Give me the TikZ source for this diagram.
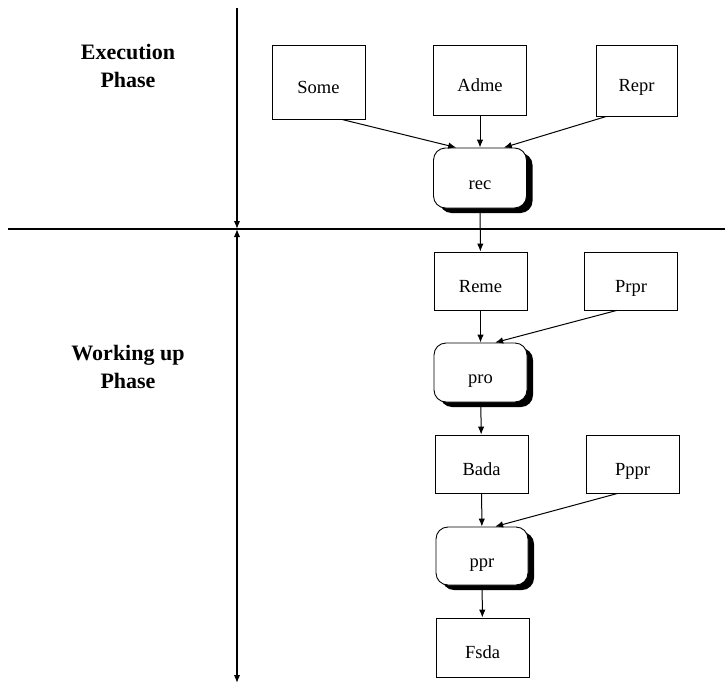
\documentclass[tikz,border=0pt]{standalone}
\usepackage{fontspec}
\setmainfont{Liberation Serif}
\usepackage{tikz}
\usetikzlibrary{positioning,shapes,calc,arrows.meta,shadows}

\begin{document}
\begin{tikzpicture}[x=1pt,y=-1pt,line width=1pt,
                    >={Latex[length=8pt,width=6.5pt]},
                    data node/.style={rectangle,draw,line width=0.9pt,minimum width=93pt,minimum height=58pt,
                                      inner sep=0pt,text height=22pt,text depth=0pt,
                                      font=\fontsize{18.5}{20}\selectfont},
                    proc node/.style={rectangle,rounded corners=12pt,draw,line width=0.9pt,fill=white,
                                      minimum width=93pt,minimum height=59pt,inner sep=0pt,
                                      text height=22pt,text depth=0pt,
                                      font=\fontsize{18.5}{20}\selectfont,
                                      drop shadow={shadow xshift=6pt,shadow yshift=-5pt,fill=black,opacity=1}},
                    phase label/.style={align=center,font=\fontsize{22}{28}\selectfont\bfseries},
                    axis line/.style={line width=1.5pt}]
  \useasboundingbox (0,0) rectangle (725,685);
  % phase split
  \coordinate (top) at (237,8);
  \coordinate (mid) at (237,229);
  \coordinate (bot) at (237,683);
  \coordinate (left) at (8,229);
  \coordinate (right) at (725,229);
  \draw[axis line] (left) -- (right);
  \draw[axis line,->] (top) -- (mid);
  \draw[axis line,<->] (mid) -- (bot);
  \node[phase label] (ex) at (128,66) {Execution\\Phase};
  \node[phase label] (wu) at (128,367) {Working up\\Phase};
  % execution
  \node[data node,minimum height=74pt] (some) at (318.5,82) {Some};
  \node[data node,minimum height=70pt] (adme) at (480,80) {Adme};
  \node[data node,minimum width=81pt,minimum height=71pt] (repr) at (636.5,80.5) {Repr};
  \node[proc node,minimum height=60pt] (rec) at (480,178) {rec};
  % working up
  \node[data node] (reme) at (480.5,281) {Reme};
  \node[data node] (prpr) at (631,281) {Prpr};
  \node[proc node] (pro) at (480.5,372.5) {pro};
  \node[data node] (bada) at (481.5,464) {Bada};
  \node[data node] (pppr) at (632.5,464) {Pppr};
  \node[proc node,minimum width=92pt,minimum height=58pt] (ppr) at (482,556) {ppr};
  \node[data node,minimum height=59pt] (fsda) at (482.5,647.5) {Fsda};
  \path[->]%
    (some.-58) edge (rec.128)
    (adme) edge (rec)
    (repr.-130) edge (rec.52)
    (rec) edge (reme)
    (reme) edge (pro)
    (prpr.-116) edge (pro.64)
    (pro) edge (bada)
    (bada) edge (ppr)
    (pppr.-117) edge (ppr.66)
    (ppr) edge (fsda);
\end{tikzpicture}
\end{document}
